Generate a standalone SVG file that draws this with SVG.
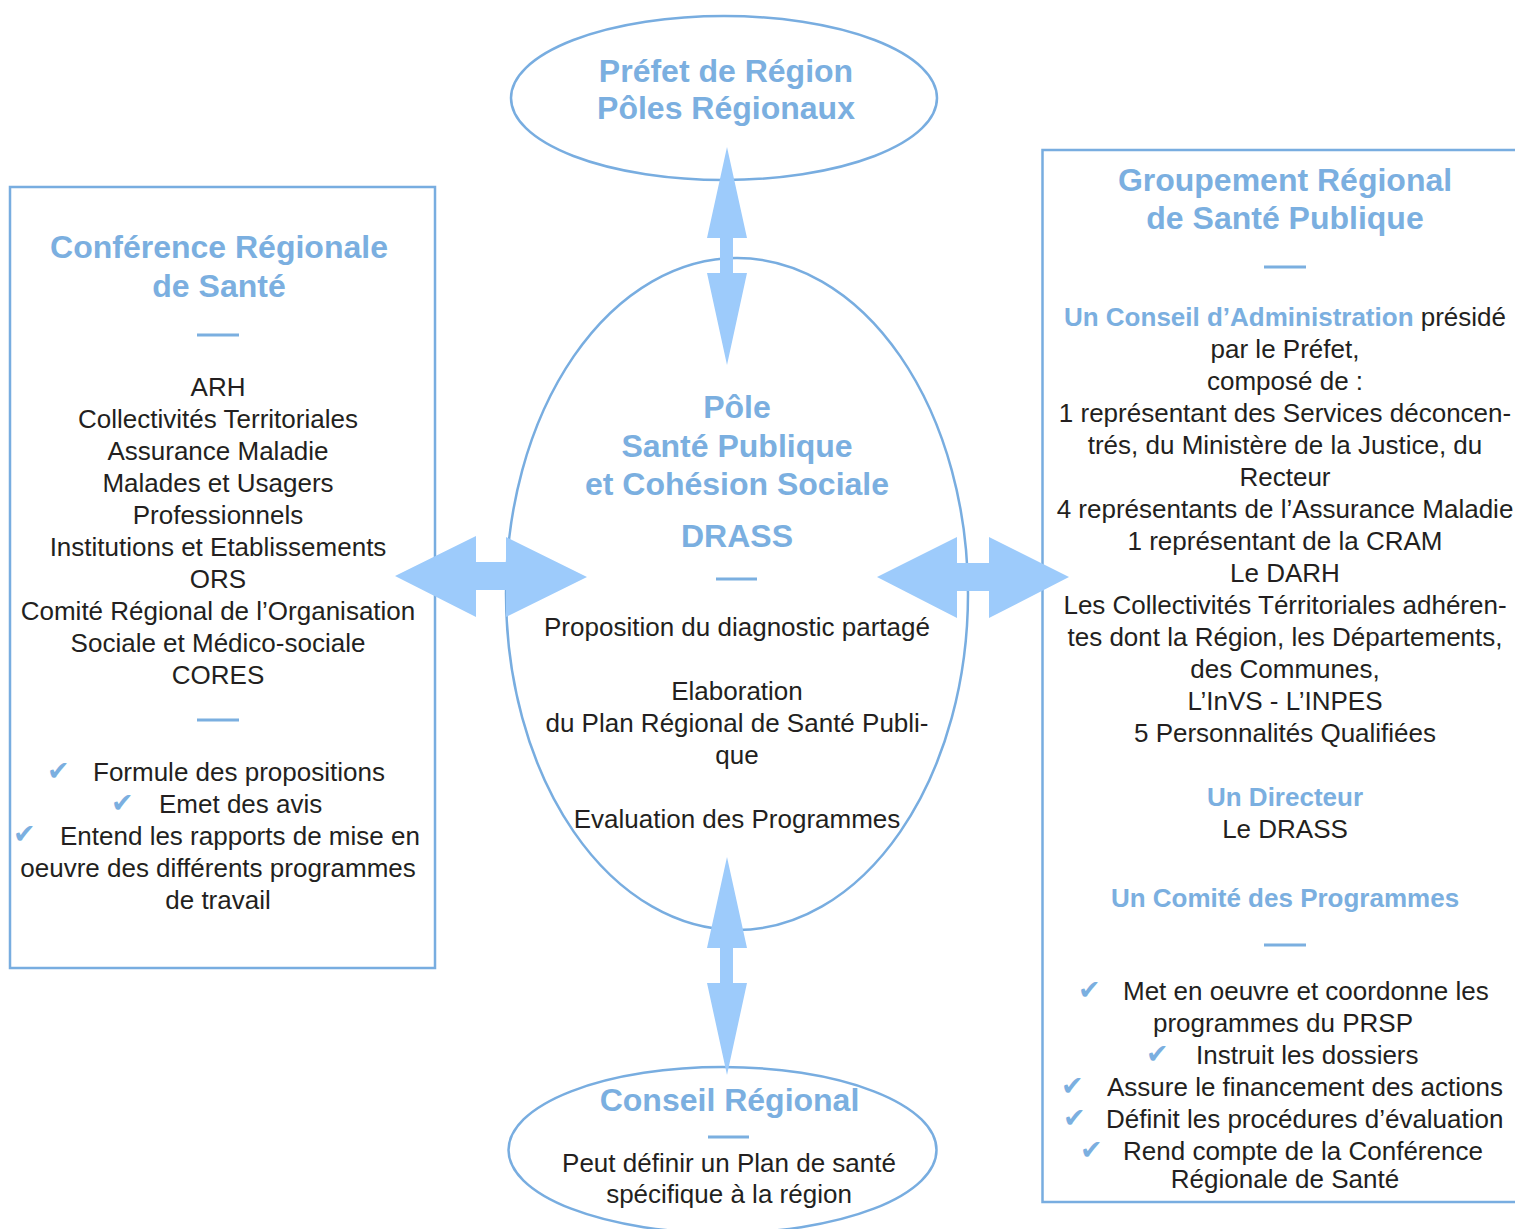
<svg xmlns="http://www.w3.org/2000/svg" width="1515" height="1229" viewBox="0 0 1515 1229">
<style>
.shape{fill:none;stroke:#78ADE0;stroke-width:2.5}
.t{font-family:"Liberation Sans",Arial,sans-serif;font-size:26px;fill:#231F20}
.m{text-anchor:middle}
.h{font-family:"Liberation Sans",Arial,sans-serif;font-size:32px;font-weight:bold;fill:#7BAFE0;text-anchor:middle}
.s{font-family:"Liberation Sans",Arial,sans-serif;font-size:26px;font-weight:bold;fill:#7BAFE0}
.ck{font-family:"DejaVu Sans",sans-serif;font-size:27px;fill:#7BAFE0}
.dash{stroke:#7BAFE0;stroke-width:3}
.arrow{fill:#9DCBFB}
</style>
<rect width="1515" height="1229" fill="#FFFFFF"/>

<g id="prefet">
<ellipse class="shape" cx="724" cy="98" rx="213" ry="82"/>
<text class="h" x="726" y="82">Préfet de Région</text>
<text class="h" x="726" y="119">Pôles Régionaux</text>
</g>

<g id="conference">
<rect class="shape" x="10" y="187" width="425" height="781"/>
<text class="h" x="219" y="258">Conférence Régionale</text>
<text class="h" x="219" y="297">de Santé</text>
<line class="dash" x1="197" y1="335" x2="239" y2="335"/>
<text class="t m" x="218" y="396">ARH</text>
<text class="t m" x="218" y="428">Collectivités Territoriales</text>
<text class="t m" x="218" y="460">Assurance Maladie</text>
<text class="t m" x="218" y="492">Malades et Usagers</text>
<text class="t m" x="218" y="524">Professionnels</text>
<text class="t m" x="218" y="556">Institutions et Etablissements</text>
<text class="t m" x="218" y="588">ORS</text>
<text class="t m" x="218" y="620">Comité Régional de l’Organisation</text>
<text class="t m" x="218" y="652">Sociale et Médico-sociale</text>
<text class="t m" x="218" y="684">CORES</text>
<line class="dash" x1="197" y1="720" x2="239" y2="720"/>
<text class="ck" x="47" y="780">✔</text>
<text class="t" x="93" y="781">Formule des propositions</text>
<text class="ck" x="111" y="812">✔</text>
<text class="t" x="159" y="813">Emet des avis</text>
<text class="ck" x="13" y="843">✔</text>
<text class="t" x="60" y="845">Entend les rapports de mise en</text>
<text class="t m" x="218" y="877">oeuvre des différents programmes</text>
<text class="t m" x="218" y="909">de travail</text>
</g>

<g id="pole">
<ellipse class="shape" cx="737" cy="594" rx="231" ry="336"/>
<text class="h" x="737" y="418">Pôle</text>
<text class="h" x="737" y="457">Santé Publique</text>
<text class="h" x="737" y="495">et Cohésion Sociale</text>
<text class="h" x="737" y="547">DRASS</text>
<line class="dash" x1="716" y1="579" x2="757" y2="579"/>
<text class="t m" x="737" y="636">Proposition du diagnostic partagé</text>
<text class="t m" x="737" y="700">Elaboration</text>
<text class="t m" x="737" y="732">du Plan Régional de Santé Publi-</text>
<text class="t m" x="737" y="764">que</text>
<text class="t m" x="737" y="828">Evaluation des Programmes</text>
</g>

<g id="groupement">
<rect class="shape" x="1042.5" y="150" width="490" height="1052"/>
<text class="h" x="1285" y="191">Groupement Régional</text>
<text class="h" x="1285" y="229">de Santé Publique</text>
<line class="dash" x1="1264" y1="267" x2="1306" y2="267"/>
<text class="t m" x="1285" y="326"><tspan class="s">Un Conseil d’Administration</tspan> présidé</text>
<text class="t m" x="1285" y="358">par le Préfet,</text>
<text class="t m" x="1285" y="390">composé de :</text>
<text class="t m" x="1285" y="422">1 représentant des Services déconcen-</text>
<text class="t m" x="1285" y="454">trés, du Ministère de la Justice, du</text>
<text class="t m" x="1285" y="486">Recteur</text>
<text class="t m" x="1285" y="518">4 représentants de l’Assurance Maladie</text>
<text class="t m" x="1285" y="550">1 représentant de la CRAM</text>
<text class="t m" x="1285" y="582">Le DARH</text>
<text class="t m" x="1285" y="614">Les Collectivités Térritoriales adhéren-</text>
<text class="t m" x="1285" y="646">tes dont la Région, les Départements,</text>
<text class="t m" x="1285" y="678">des Communes,</text>
<text class="t m" x="1285" y="710">L’InVS - L’INPES</text>
<text class="t m" x="1285" y="742">5 Personnalités Qualifiées</text>
<text class="s m" x="1285" y="806">Un Directeur</text>
<text class="t m" x="1285" y="838">Le DRASS</text>
<text class="s m" x="1285" y="907">Un Comité des Programmes</text>
<line class="dash" x1="1264" y1="945" x2="1306" y2="945"/>
<text class="ck" x="1078" y="999">✔</text>
<text class="t" x="1123" y="1000">Met en oeuvre et coordonne les</text>
<text class="t m" x="1283" y="1032">programmes du PRSP</text>
<text class="ck" x="1146" y="1063">✔</text>
<text class="t" x="1196" y="1064">Instruit les dossiers</text>
<text class="ck" x="1061" y="1095">✔</text>
<text class="t" x="1107" y="1096">Assure le financement des actions</text>
<text class="ck" x="1063" y="1127">✔</text>
<text class="t" x="1106" y="1128">Définit les procédures d’évaluation</text>
<text class="ck" x="1080" y="1159">✔</text>
<text class="t" x="1123" y="1160">Rend compte de la Conférence</text>
<text class="t m" x="1285" y="1188">Régionale de Santé</text>
</g>

<g id="conseil">
<ellipse class="shape" cx="722.5" cy="1150" rx="214" ry="83"/>
<text class="h" x="729.5" y="1111">Conseil Régional</text>
<line class="dash" x1="708" y1="1137" x2="749" y2="1137"/>
<text class="t m" x="729" y="1172">Peut définir un Plan de santé</text>
<text class="t m" x="729" y="1203">spécifique à la région</text>
</g>

<g id="connectors">
<polygon class="arrow" points="727,147 747,238 733,238 733,273 747,273 727,365 707,273 720,273 720,238 707,238"/>
<polygon class="arrow" points="727,857 747,948 733,948 733,983 747,983 727,1075 707,983 720,983 720,948 707,948"/>
<polygon class="arrow" points="395,576 476,536 476,562 506,562 506,537 587,577 506,617 506,590 476,590 476,617"/>
<polygon class="arrow" points="877,577 957,537 957,563 989,563 989,537 1069,577 989,618 989,591 957,591 957,618"/>
</g>
</svg>
